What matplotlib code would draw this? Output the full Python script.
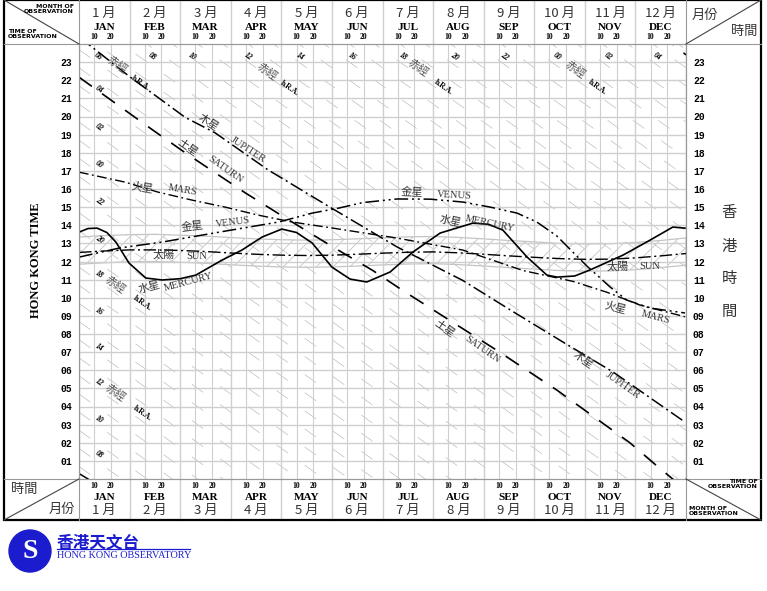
import numpy as np
import matplotlib.pyplot as plt
from matplotlib.patches import Rectangle, Circle

plt.rcParams['font.family'] = ['DejaVu Sans']
plt.rcParams['hatch.linewidth'] = 0.6
CJK = ['Noto Sans CJK TC', 'DejaVu Sans']
SERIF = ['Liberation Serif', 'DejaVu Serif']
MONO = ['Liberation Mono', 'DejaVu Sans Mono']

# ---- data (x = months since 1 Jan, y = HK time in hours) ----
months_en = ['JAN', 'FEB', 'MAR', 'APR', 'MAY', 'JUN',
             'JUL', 'AUG', 'SEP', 'OCT', 'NOV', 'DEC']
months_zh = ['1 月', '2 月', '3 月', '4 月', '5 月', '6 月',
             '7 月', '8 月', '9 月', '10 月', '11 月', '12 月']
day_ticks = [0.3, 0.63]          # 10th and 20th of each month
day_labels = ['10', '20']
hours = list(range(1, 24))

sun_m = [0, 0.5, 1, 1.5, 2, 2.5, 3, 3.5, 4, 4.5, 5, 5.5, 6,
         6.5, 7, 7.5, 8, 8.5, 9, 9.5, 10, 10.5, 11, 11.5, 12]
sun_h = [12.50, 12.58, 12.64, 12.64, 12.61, 12.55, 12.47, 12.40, 12.35, 12.33, 12.35, 12.40, 12.46,
         12.51, 12.53, 12.48, 12.40, 12.31, 12.23, 12.16, 12.12, 12.13, 12.20, 12.31, 12.44]
band_top = [13.35, 13.43, 13.48, 13.50, 13.45, 13.40, 13.32, 13.25, 13.20, 13.18, 13.20, 13.25, 13.30,
            13.36, 13.38, 13.33, 13.25, 13.16, 13.08, 13.00, 12.97, 12.98, 13.05, 13.16, 13.30]
band_bot = [11.85, 11.93, 11.99, 12.00, 11.96, 11.90, 11.82, 11.75, 11.70, 11.68, 11.70, 11.75, 11.81,
            11.86, 11.88, 11.83, 11.75, 11.66, 11.58, 11.50, 11.47, 11.48, 11.55, 11.66, 11.80]

mercury_m = [0, 0.18, 0.36, 0.55, 0.73, 0.99, 1.32, 1.64, 2.0, 2.31, 2.83, 3.22, 3.62, 4.01, 4.3,
             4.61, 5.0, 5.36, 5.69, 6.15, 6.6, 7.14, 7.79, 8.1, 8.38, 8.86, 9.25, 9.45, 9.8,
             10.1, 10.76, 11.29, 11.74, 11.98]
mercury_h = [13.62, 13.82, 13.84, 13.6, 13.07, 11.91, 11.09, 10.98, 11.05, 11.25, 12.08, 12.63, 13.35,
             13.79, 13.6, 13.02, 11.69, 11.03, 10.87, 11.42, 12.52, 13.57, 14.12, 14.05, 13.73,
             12.24, 11.25, 11.14, 11.2, 11.53, 12.36, 13.18, 13.9, 13.84]

venus_m = [0, 0.79, 1.64, 2.77, 3.95, 4.61, 5.14, 5.61, 6.29, 6.94, 7.59, 8.13, 8.66, 9.05,
           9.45, 9.77, 10.06, 10.3, 10.5, 10.83, 11.29, 11.98]
venus_h = [12.24, 12.74, 13.07, 13.62, 14.18, 14.67, 14.95, 15.25, 15.45, 15.44, 15.28, 15.0, 14.67,
           14.18, 13.4, 12.5, 11.7, 11.1, 10.59, 9.87, 9.43, 9.16]

mars_m = [0, 0.91, 1.56, 2.23, 2.89, 3.54, 4.21, 5.0, 6.29, 7.59, 8.78, 9.77, 10.44, 11.09, 11.98]
mars_h = [16.93, 16.38, 15.83, 15.39, 15.0, 14.56, 14.18, 13.85, 13.29, 12.63, 11.5, 10.9, 10.3, 9.6, 8.95]

jupiter_m = [0, 0.18, 1.0, 2.1, 2.69, 3.74, 4.96, 6.29, 7.59, 8.6, 9.6, 10.56, 11.98]
jupiter_h = [24.3, 24.0, 22.2, 19.95, 19.1, 17.05, 15.0, 12.8, 10.95, 9.2, 7.5, 5.9, 3.14]

saturn_m = [0, 0.91, 1.46, 2.1, 2.69, 3.28, 3.91, 4.96, 5.81, 6.4, 8.26, 9.45, 10.89, 11.45, 12.0]
saturn_h = [22.17, 20.35, 19.25, 18.0, 16.9, 15.8, 14.7, 12.9, 11.5, 10.4, 7.1, 4.9, 2.0, 0.66, -0.6]

ra_top = ['06', '08', '10', '12', '14', '16', '18', '20', '22', '00', '02', '04']
ra_top_m = [0.38, 1.44, 2.23, 3.34, 4.37, 5.4, 6.41, 7.43, 8.42, 9.45, 10.46, 11.43]
ra_left = ['04', '02', '00', '22', '20', '18', '16', '14', '12', '10', '08']
ra_left_h = [21.46, 19.37, 17.32, 15.28, 13.19, 11.26, 9.21, 7.23, 5.3, 3.26, 1.32]

# ---- figure layout (pixels) ----
W, H = 767, 591
L, R, T, B = 79, 686, 44, 479
fig = plt.figure(figsize=(W / 100, H / 100), dpi=100)
ax = fig.add_axes([L / W, 1 - B / H, (R - L) / W, (B - T) / H])
ax.set_xlim(0, 12)
ax.set_ylim(0, 24)

grid_c = '#cfcfcf'
ax.set_xticks(range(13))
ax.set_xticks([i + d for i in range(12) for d in day_ticks], minor=True)
ax.set_xticklabels([])
ax.set_xticklabels(day_labels * 12, minor=True)
ax.tick_params(axis='x', which='both', length=0)
ax.tick_params(axis='x', which='minor', labeltop=True, labelbottom=True, labelsize=5.5, pad=2)
for lab in ax.get_xticklabels(minor=True):
    lab.set_fontfamily(SERIF)
    lab.set_fontweight('bold')
ax.set_yticks(hours)
ax.set_yticklabels([f'{h:02d}' for h in hours])
ax.tick_params(axis='y', length=0, labelleft=True, labelright=True, labelsize=7, pad=5)
for lab in ax.get_yticklabels():
    lab.set_fontfamily(MONO)
    lab.set_fontweight('bold')
ax.grid(True, which='major', color=grid_c, lw=1.0)
ax.grid(True, which='minor', axis='x', color=grid_c, lw=0.8)
for s in ax.spines.values():
    s.set_color('#999999')
    s.set_linewidth(0.8)

# faint right-ascension lines (transit time drops 2 h per month)
mm = np.array([0, 12])
for b in np.arange(-0.31, 48, 1.0):
    ax.plot(mm, b - 2 * mm, color='#bdbdbd', lw=0.5, dashes=(20, 30), zorder=1)

# twilight band around the Sun
ax.fill_between(sun_m, band_bot, band_top, facecolor='none', edgecolor='#c4c4c4',
                hatch='//', lw=0.9, zorder=1.5)

planets = [
    (sun_m, sun_h, (9, 2.5, 1.5, 2.5), 1.0),
    (mercury_m, mercury_h, None, 1.2),
    (venus_m, venus_h, (9, 2.5, 1.3, 2.5, 1.3, 2.5), 1.1),
    (mars_m, mars_h, (7, 2.5, 1.3, 2.5), 1.0),
    (jupiter_m, jupiter_h, (9, 2.5, 1.3, 2.5), 1.1),
    (saturn_m, saturn_h, (9.5, 7.5), 1.2),
]
for m, h, dash, lw in planets:
    for off in (-24, 0, 24):
        y = np.array(h) + off
        if dash is None:
            ax.plot(m, y, color='black', lw=lw, zorder=3)
        else:
            ax.plot(m, y, color='black', lw=lw, dashes=dash, zorder=3)

# planet labels
labels = [
    (2.55, 19.64, '木星', -33), (3.34, 18.15, 'JUPITER', -33),
    (9.96, 6.57, '木星', -35), (10.74, 5.19, 'JUPITER', -35),
    (2.15, 18.32, '土星', -35), (2.89, 17.05, 'SATURN', -35),
    (7.24, 8.33, '土星', -35), (7.97, 7.12, 'SATURN', -35),
    (1.25, 16.06, '火星', -10), (2.04, 15.94, 'MARS', -10),
    (10.6, 9.43, '火星', -15), (11.39, 8.94, 'MARS', -15),
    (2.23, 13.9, '金星', 7), (3.04, 14.18, 'VENUS', 7),
    (6.58, 15.78, '金星', -3), (7.43, 15.67, 'VENUS', -3),
    (1.38, 10.59, '水星', 15), (2.16, 10.87, 'MERCURY', 15),
    (7.34, 14.23, '水星', -12), (8.13, 14.07, 'MERCURY', -12),
    (1.68, 12.36, '太陽', 0), (2.33, 12.3, 'SUN', 0),
    (10.64, 11.7, '太陽', 0), (11.29, 11.75, 'SUN', 0),
]
for x, y, s, rot in labels:
    cjk = not s.isascii()
    ax.text(x, y, s, rotation=rot, ha='center', va='center', fontsize=8 if cjk else 7.5,
            family=CJK if cjk else SERIF, color='#333333', zorder=4,
            rotation_mode='anchor')

# right ascension labels
ra_words = [(0.75, 22.84), (3.72, 22.46), (6.70, 22.68), (9.81, 22.57), (0.71, 10.7), (0.71, 4.74)]
ra_hra = [(1.21, 21.85), (4.17, 21.57), (7.2, 21.63), (10.26, 21.63), (1.25, 9.71), (1.25, 3.64)]
for x, y in ra_words:
    ax.text(x, y, '赤經', rotation=-35, ha='center', va='center', fontsize=8,
            family=CJK, color='#555555', zorder=4, rotation_mode='anchor')
for x, y in ra_hra:
    ax.text(x, y, 'h.R.A.', rotation=-35, ha='center', va='center', fontsize=5.5,
            family=SERIF, weight='bold', zorder=4, rotation_mode='anchor')
for s, x in zip(ra_top, ra_top_m):
    ax.text(x, 23.28, s, rotation=-35, ha='center', va='center', fontsize=5.5,
            family=SERIF, weight='bold', style='italic', zorder=4)
for s, y in zip(ra_left, ra_left_h):
    ax.text(0.4, y, s, rotation=-35, ha='center', va='center', fontsize=5.5,
            family=SERIF, weight='bold', style='italic', zorder=4)

# month headers (top and bottom)
tr = ax.get_xaxis_transform()
ph = B - T
for i in range(12):
    c = i + 0.5
    ax.text(c, (B - 13) / ph, months_zh[i], transform=tr, ha='center', va='center',
            fontsize=9.5, family=CJK, color='#333333', clip_on=False)
    ax.text(c, (B - 28) / ph, months_en[i], transform=tr, ha='center', va='center',
            fontsize=8, family=SERIF, weight='bold', clip_on=False)
    ax.text(c, (B - 497) / ph, months_en[i], transform=tr, ha='center', va='center',
            fontsize=8, family=SERIF, weight='bold', clip_on=False)
    ax.text(c, (B - 510) / ph, months_zh[i], transform=tr, ha='center', va='center',
            fontsize=9.5, family=CJK, color='#333333', clip_on=False)
for i in range(1, 12):
    ax.plot([i, i], [1, 1 + T / ph], transform=tr, color=grid_c, lw=1, clip_on=False)
    ax.plot([i, i], [0, -(520 - B) / ph], transform=tr, color=grid_c, lw=1, clip_on=False)

# ---- frame, corner cells, side titles and logo in pixel coordinates ----
ov = fig.add_axes([0, 0, 1, 1], zorder=5)
ov.set_xlim(0, W)
ov.set_ylim(H, 0)
ov.axis('off')
ov.add_patch(Rectangle((4, 0), 757, 520, fill=False, ec='black', lw=1.6))
for x in (L, R):
    ov.plot([x, x], [0, 520], color='#999999', lw=0.8)
for y in (T, B):
    ov.plot([4, 761], [y, y], color='#999999', lw=0.8)
ov.plot([4, L], [0, T], color='#444444', lw=0.8)
ov.plot([R, 761], [T, 0], color='#444444', lw=0.8)
ov.plot([4, L], [520, B], color='#444444', lw=0.8)
ov.plot([R, 761], [B, 520], color='#444444', lw=0.8)

small = dict(fontsize=4.5, weight='bold', linespacing=0.85)
ov.text(74, 9, 'MONTH OF\nOBSERVATION', ha='right', va='center', **small)
ov.text(8, 34, 'TIME OF\nOBSERVATION', ha='left', va='center', **small)
ov.text(758, 484, 'TIME OF\nOBSERVATION', ha='right', va='center', **small)
ov.text(689, 511, 'MONTH OF\nOBSERVATION', ha='left', va='center', **small)
ov.text(692, 15, '月份', family=CJK, fontsize=9.5, va='center', color='#333333')
ov.text(757, 31, '時間', family=CJK, fontsize=9.5, ha='right', va='center', color='#333333')
ov.text(11, 489, '時間', family=CJK, fontsize=9.5, va='center', color='#333333')
ov.text(75, 509, '月份', family=CJK, fontsize=9.5, ha='right', va='center', color='#333333')
ov.text(36, 260, 'HONG KONG TIME', rotation=90, ha='center', va='center',
        family=SERIF, weight='bold', fontsize=9)
for ch, y in zip('香港時間', [213, 246, 279, 311]):
    ov.text(729, y, ch, family=CJK, fontsize=11, ha='center', va='center', color='#333333')

blue = '#1c1ccf'
ov.add_patch(Circle((30, 551), 21, color=blue))
ov.text(30, 552, 'S', color='white', fontsize=20, weight='bold', ha='center', va='center',
        family=SERIF)
ov.text(57, 542, '香港天文台', family=CJK, fontsize=12, weight='bold', color=blue,
        va='center', ha='left')
ov.plot([57, 190], [549, 549], color=blue, lw=0.9)
ov.text(57, 556, 'HONG KONG OBSERVATORY', family=SERIF, fontsize=7.3, color=blue,
        va='center', ha='left')

fig.savefig('out.png', dpi=100, facecolor='white')
